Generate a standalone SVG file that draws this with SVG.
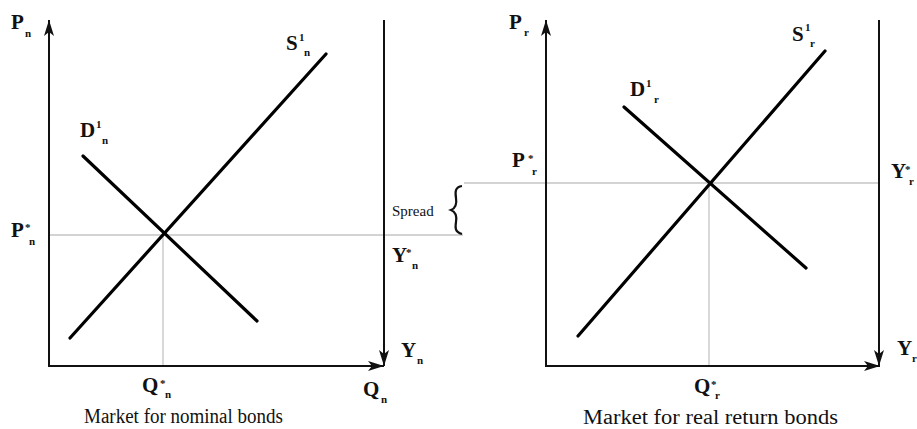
<svg xmlns="http://www.w3.org/2000/svg" width="917" height="429" viewBox="0 0 917 429">
<style>
.ax{stroke:#111;stroke-width:2;fill:none}
.cv{stroke:#000;stroke-width:3.2;fill:none;stroke-linecap:round}
.gr{stroke:#c4c4c4;stroke-width:1.3;fill:none}
.t{font-family:"Liberation Serif",serif;font-weight:bold;fill:#111}
.big{font-size:21px}
.sm{font-size:11px}
.cap{font-family:"Liberation Serif",serif;font-size:20px;fill:#111}
</style>
<defs>
<marker id="ah" viewBox="0 0 16 10" refX="16" refY="5" markerWidth="16" markerHeight="10" markerUnits="userSpaceOnUse" orient="auto">
<path d="M0,0 L16,5 L0,10 L4,5 Z" fill="#111"/>
</marker>
</defs>
<rect width="917" height="429" fill="#fff"/>
<g id="connectors">
<line class="gr" x1="49" y1="235" x2="463" y2="235"/>
<line class="gr" x1="163" y1="235" x2="163" y2="366"/>
<line class="gr" x1="464" y1="183" x2="880" y2="183"/>
<line class="gr" x1="709" y1="183" x2="709" y2="366"/>
<line class="ax" x1="49" y1="367" x2="49" y2="20" marker-end="url(#ah)"/>
<line class="ax" x1="48" y1="366" x2="384" y2="366" marker-end="url(#ah)"/>
<line class="ax" x1="384" y1="20" x2="384" y2="366" marker-end="url(#ah)"/>
<line class="ax" x1="546" y1="367" x2="546" y2="20" marker-end="url(#ah)"/>
<line class="ax" x1="545" y1="366" x2="880" y2="366" marker-end="url(#ah)"/>
<line class="ax" x1="879" y1="20" x2="879" y2="366" marker-end="url(#ah)"/>
<line class="cv" x1="70" y1="338" x2="326" y2="54"/>
<line class="cv" x1="83" y1="156" x2="257" y2="321"/>
<line class="cv" x1="578" y1="336" x2="825" y2="51"/>
<line class="cv" x1="624" y1="107" x2="806" y2="268"/>
<path d="M462,186 C455,187 455,192 456,198 C457,204 456,208 451,210 C456,212 457,216 456,222 C455,228 455,232 462,234" stroke="#111" stroke-width="2.2" fill="none"/>
</g>
<g id="left-labels">
<text class="t big" x="11" y="29">P</text><text class="t sm" x="25" y="37">n</text>
<text class="t big" x="80" y="137">D</text><text class="t sm" x="96" y="128">1</text><text class="t sm" x="102" y="144">n</text>
<text class="t big" x="286" y="50" font-weight="normal">S</text><text class="t sm" x="299" y="41">1</text><text class="t sm" x="304" y="56">n</text>
<text class="t big" x="11" y="237">P</text><text class="t sm" x="25" y="231">*</text><text class="t sm" x="29" y="245">n</text>
<text class="t big" x="392" y="262">Y</text><text class="t sm" x="406" y="256">*</text><text class="t sm" x="412" y="269">n</text>
<text class="t big" x="401" y="357">Y</text><text class="t sm" x="417" y="364">n</text>
<text class="t big" x="363" y="396">Q</text><text class="t sm" x="381" y="403">n</text>
<text class="t big" x="142" y="392">Q</text><text class="t sm" x="160" y="387">*</text><text class="t sm" x="165" y="398">n</text>
<text x="392" y="216" font-family="Liberation Serif, serif" font-size="15" fill="#111">Spread</text>
<text class="cap" x="84" y="423" textLength="199" lengthAdjust="spacingAndGlyphs">Market for nominal bonds</text>
</g>
<g id="right-labels">
<text class="t big" x="509" y="29">P</text><text class="t sm" x="524" y="36">r</text>
<text class="t big" x="630" y="96">D</text><text class="t sm" x="646" y="87">1</text><text class="t sm" x="654" y="103">r</text>
<text class="t big" x="792" y="41" font-weight="normal">S</text><text class="t sm" x="805" y="31">1</text><text class="t sm" x="810" y="47">r</text>
<text class="t big" x="512" y="167">P</text><text class="t sm" x="528" y="162">*</text><text class="t sm" x="532" y="175">r</text>
<text class="t big" x="891" y="178">Y</text><text class="t sm" x="905" y="173">*</text><text class="t sm" x="909" y="185">r</text>
<text class="t big" x="897" y="355">Y</text><text class="t sm" x="912" y="362">r</text>
<text class="t big" x="694" y="393">Q</text><text class="t sm" x="711" y="388">*</text><text class="t sm" x="715" y="399">r</text>
<text class="cap" x="583" y="424" textLength="255" lengthAdjust="spacingAndGlyphs">Market for real return bonds</text>
</g>
</svg>
